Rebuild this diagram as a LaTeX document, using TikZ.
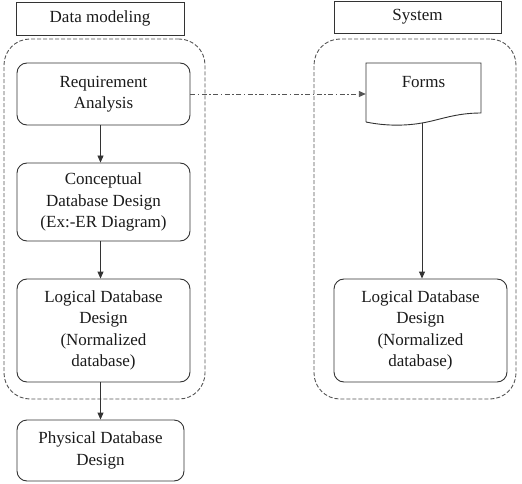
\documentclass[tikz,border=0pt]{standalone}
\usepackage{fontspec}
\setmainfont{Liberation Serif}
\usetikzlibrary{arrows.meta}
\definecolor{linec}{HTML}{333333}
\definecolor{dashc}{HTML}{555555}
\definecolor{textc}{HTML}{1A1A1A}
\begin{document}
\begin{tikzpicture}[x=1pt,y=-1pt,
  every node/.style={font=\fontsize{17}{21.5}\selectfont, text=textc, inner sep=0pt},
  header/.style={draw=linec, line width=0.9pt, rectangle},
  stepbox/.style={draw=linec, line width=0.9pt, rounded corners=10pt, align=center},
  container/.style={draw=dashc, line width=0.9pt, dash pattern=on 4pt off 2pt, rounded corners=26pt},
  flow/.style={draw=linec, line width=0.9pt, -{Triangle[length=7pt,width=6pt]}},
  linkarrow/.style={draw=dashc, line width=0.9pt, dash pattern=on 5pt off 2.5pt on 1.5pt off 2.5pt, -{Triangle[length=7pt,width=6pt]}}
]
\useasboundingbox (0,0) rectangle (522,484);
% headers
\node[header, minimum width=168pt, minimum height=33pt] (dm) at (100,18.5) {Data modeling};
\node[header, minimum width=167pt, minimum height=32pt] (sys) at (417.5,17) {System};
% containers
\node[container, minimum width=201pt, minimum height=360pt] (leftc) at (104.5,219) {};
\node[container, minimum width=202pt, minimum height=360pt] (rightc) at (415,219) {};
% left boxes
\node[stepbox, minimum width=173pt, minimum height=62pt] (req) at (103.5,94) {Requirement\\Analysis};
\node[stepbox, minimum width=173pt, minimum height=78pt] (con) at (103.5,202) {Conceptual\\Database Design\\(Ex:-ER Diagram)};
\node[stepbox, minimum width=173pt, minimum height=103pt] (log) at (103.5,330.5) {Logical Database\\Design\\(Normalized\\database)};
\node[stepbox, minimum width=167pt, minimum height=61pt] (phy) at (100.5,450.5) {Physical Database\\Design};
% forms document shape
\node[minimum width=115pt, minimum height=62pt] (forms) at (423.5,94) {};
\node[anchor=center] (formstxt) at (423.5,82) {Forms};
\draw[linec, line width=0.9pt] (366,122) -- (366,63) -- (481,63) -- (481,113)
  .. controls (455,113) and (440,120) .. (422,123) coordinate (fw)
  .. controls (405,126) and (385,126) .. (366,122);
% right box
\node[stepbox, minimum width=173pt, minimum height=103pt] (rlog) at (420.5,330.5) {Logical Database\\Design\\(Normalized\\database)};
% connectors
\draw[flow] ([xshift=-3pt]req.south) -- ([xshift=-3pt]con.north);
\draw[flow] ([xshift=-3pt]con.south) -- ([xshift=-3pt]log.north);
\draw[flow] ([xshift=-3pt]log.south) -- ([xshift=-3pt]log.south |- phy.north);
\draw[flow] (fw) -- (fw |- rlog.north);
\draw[linkarrow] (req.east) -- (forms.west);
\end{tikzpicture}
\end{document}
